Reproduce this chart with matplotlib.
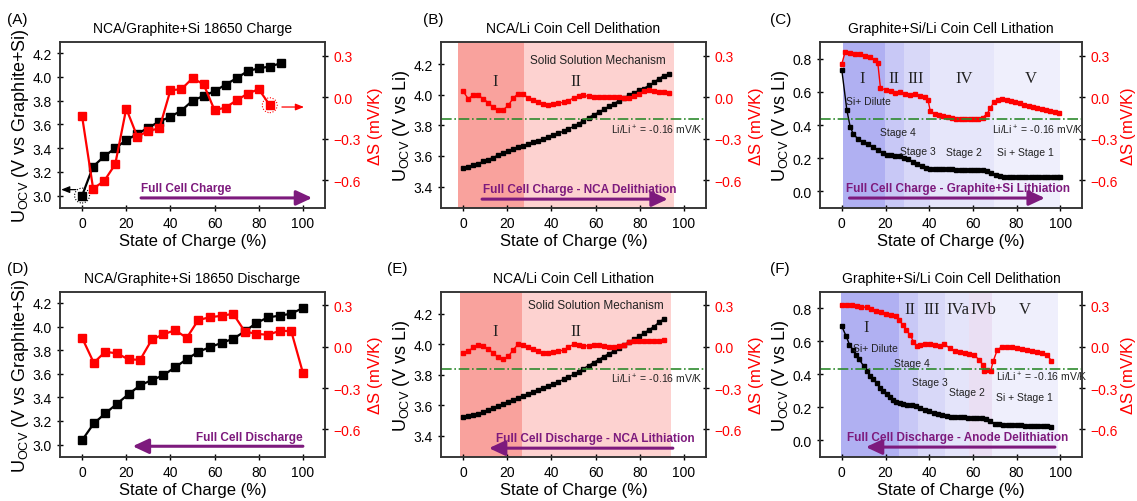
import numpy as np
import matplotlib
matplotlib.use('Agg')
import matplotlib.pyplot as plt
from matplotlib import rcParams

rcParams['font.family'] = ['Liberation Sans', 'DejaVu Sans']
rcParams['mathtext.fontset'] = 'custom'
rcParams['mathtext.rm'] = 'Liberation Sans'
rcParams['mathtext.it'] = 'Liberation Sans:italic'
rcParams['xtick.direction'] = 'inout'
rcParams['ytick.direction'] = 'inout'
rcParams['axes.linewidth'] = 1.1

FS_TICK = 10
FS_LAB = 12
FS_YLAB = 13
FS_TITLE = 10
PURPLE = '#7d1a7d'
GREEN = '#2e8b2e'
RED = '#ff0000'

##############################################################################
# DATA
# (A) 18650 charge
soc_a_k = [0, 5, 10, 15, 20, 25, 30, 35, 40, 45, 50, 55, 60, 65, 70, 75, 80, 85, 90]
u_a = [3.00, 3.245, 3.33, 3.40, 3.467, 3.52, 3.573, 3.624, 3.665, 3.717, 3.80,
       3.84, 3.88, 3.936, 3.99, 4.05, 4.073, 4.088, 4.116]
soc_a_r = [0, 5, 10, 15, 20, 25, 30, 35, 40, 45, 50, 55, 60, 65, 70, 75, 80, 85]
ds_a = [-0.137, -0.66, -0.605, -0.484, -0.081, -0.284, -0.243, -0.224, 0.051,
        0.059, 0.138, 0.095, -0.093, -0.074, -0.021, 0.027, 0.059, -0.057]

# (D) 18650 discharge
soc_d = [0, 5.3, 10.5, 15.8, 21.1, 26.3, 31.6, 36.8, 42.1, 47.4, 52.6, 57.9,
         63.2, 68.4, 73.7, 78.9, 84.2, 89.5, 94.7, 100]
u_d = [3.037, 3.179, 3.264, 3.346, 3.428, 3.502, 3.547, 3.587, 3.655, 3.723,
       3.786, 3.825, 3.862, 3.896, 3.959, 4.03, 4.078, 4.092, 4.109, 4.157]
ds_d = [0.065, -0.116, -0.036, -0.048, -0.092, -0.094, 0.053, 0.09, 0.121, 0.065,
        0.194, 0.215, 0.225, 0.24, 0.111, 0.094, 0.087, 0.116, 0.114, -0.189]

# (B) NCA delithiation
soc_b = [0, 2.3, 4.5, 6.8, 9.1, 11.4, 13.6, 15.9, 18.2, 20.5, 22.7, 25.0, 27.3,
         29.5, 31.8, 34.1, 36.4, 38.6, 40.9, 43.2, 45.5, 47.7, 50.0, 52.3, 54.5,
         56.8, 59.1, 61.4, 63.6, 65.9, 68.2, 70.5, 72.7, 75.0, 77.3, 79.5, 81.8,
         84.1, 86.4, 88.6, 90.9, 93.2]
u_b = [3.522, 3.530, 3.539, 3.550, 3.564, 3.577, 3.590, 3.606, 3.619, 3.632,
       3.645, 3.656, 3.665, 3.678, 3.690, 3.701, 3.712, 3.723, 3.736, 3.749,
       3.762, 3.776, 3.793, 3.811, 3.831, 3.851, 3.869, 3.886, 3.904, 3.924,
       3.941, 3.961, 3.979, 3.997, 4.012, 4.028, 4.041, 4.061, 4.081, 4.105,
       4.125, 4.136]
ds_b = [0.044, -0.010, 0.015, 0.015, -0.010, -0.039, -0.073, -0.090, -0.090, -0.058,
        -0.005, 0.027, 0.022, -0.005, -0.022, -0.034, -0.048, -0.053, -0.048, -0.041,
        -0.036, -0.024, -0.005, 0.007, 0.015, 0.007, 0.0, 0.002, 0.002, 0.0,
        0.002, 0.002, -0.002, -0.002, 0.007, 0.022, 0.044, 0.051, 0.044, 0.036,
        0.039, 0.034]

# (E) NCA lithiation
soc_e = [0, 2.3, 4.5, 6.8, 9.1, 11.4, 13.6, 15.9, 18.2, 20.5, 22.7, 25.0, 27.3,
         29.5, 31.8, 34.1, 36.4, 38.6, 40.9, 43.2, 45.5, 47.7, 50.0, 52.3, 54.5,
         56.8, 59.1, 61.4, 63.6, 65.9, 68.2, 70.5, 72.7, 75.0, 77.3, 79.5, 81.8,
         84.1, 86.4, 88.6, 90.9]
u_e = [3.522, 3.528, 3.535, 3.544, 3.555, 3.568, 3.581, 3.594, 3.608, 3.621,
       3.634, 3.648, 3.661, 3.674, 3.687, 3.701, 3.714, 3.727, 3.740, 3.754,
       3.769, 3.785, 3.802, 3.820, 3.840, 3.860, 3.880, 3.899, 3.919, 3.937,
       3.955, 3.975, 3.992, 4.012, 4.032, 4.052, 4.072, 4.094, 4.116, 4.143,
       4.167]
ds_e = [-0.046, -0.034, -0.005, 0.01, 0.007, -0.015, -0.046, -0.077, -0.090, -0.070,
        -0.022, 0.019, 0.015, -0.005, -0.015, -0.034, -0.046, -0.048, -0.039, -0.034,
        -0.022, -0.005, 0.019, 0.015, 0.007, 0.007, 0.010, 0.010, 0.007, 0.0,
        0.002, 0.007, 0.015, 0.034, 0.044, 0.039, 0.039, 0.039, 0.039, 0.039,
        0.046]

# (C) Graphite+Si lithiation
soc_c_k = [0, 2.3, 3.8, 5.3, 7.4, 9.6, 11.9, 14.2, 16.4, 18.7, 20.5, 22.5, 24.5,
           26.5, 28.5, 30.5, 32.5, 34.5, 36.5, 38.5, 40.5, 42.5, 44.5, 46.5, 48.5,
           50.5, 52.5, 54.5, 56.5, 58.5, 60.5, 62.5, 64.5, 66.5, 68.5, 70.5, 72.5,
           74.5, 76.5, 78.5, 80.5, 82.5, 84.5, 86.5, 88.5, 90.5, 92.5, 94.5, 96.5,
           98.5, 100]
u_c = [0.73, 0.49, 0.39, 0.345, 0.316, 0.30, 0.284, 0.268, 0.252, 0.232, 0.222,
       0.220, 0.216, 0.211, 0.204, 0.193, 0.180, 0.166, 0.153, 0.143, 0.137,
       0.134, 0.133, 0.133, 0.132, 0.132, 0.131, 0.131, 0.130, 0.130, 0.129,
       0.128, 0.126, 0.122, 0.112, 0.100, 0.092, 0.089, 0.088, 0.087, 0.087,
       0.086, 0.086, 0.086, 0.085, 0.085, 0.085, 0.084, 0.084, 0.084, 0.084]
soc_c_r = [0, 1.5, 3.8, 6.0, 8.3, 10.5, 12.8, 15.0, 16.5, 17.7, 20, 22.3, 24.5,
           26.8, 29, 31.3, 33.5, 35.8, 38, 39.5, 40.5, 42.5, 44.5, 46.5, 48.5,
           50.5, 52.5, 54.5, 56.5, 58.5, 60.5, 62.5, 64.5, 66.5, 68, 69.6, 71.5,
           73.5, 75.5, 77.5, 79.5, 81.5, 83.5, 85.5, 87.5, 89.5, 91.5, 93.5, 95.5,
           97.5, 99.5]
ds_c = [0.242, 0.327, 0.32, 0.316, 0.314, 0.30, 0.288, 0.27, 0.245, 0.065, 0.055,
        0.043, 0.034, 0.036, 0.026, 0.019, 0.026, 0.01, 0.002, -0.02, -0.10,
        -0.118, -0.128, -0.138, -0.145, -0.150, -0.154, -0.157, -0.159, -0.160,
        -0.159, -0.155, -0.146, -0.120, -0.080, -0.035, -0.018, -0.014, -0.020,
        -0.028, -0.036, -0.044, -0.052, -0.060, -0.068, -0.076, -0.084, -0.091,
        -0.098, -0.104, -0.110]

# (F) Graphite+Si delithiation
soc_f_k = [0, 2, 3.5, 5, 6.5, 8, 10, 11.5, 13, 14.5, 16, 17.5, 19, 20.5, 22, 23.5,
           25, 26.5, 28, 30, 32, 34, 36, 38, 40, 42, 44, 46, 48, 50, 52, 54, 56,
           58, 60, 62, 64, 66, 68, 70, 72, 74, 76, 78, 80, 82, 84, 86, 88, 90, 92,
           94, 96]
u_f = [0.69, 0.63, 0.58, 0.55, 0.52, 0.49, 0.45, 0.42, 0.39, 0.37, 0.345, 0.32,
       0.30, 0.28, 0.26, 0.245, 0.232, 0.224, 0.219, 0.216, 0.213, 0.208, 0.198,
       0.186, 0.176, 0.166, 0.158, 0.152, 0.148, 0.145, 0.142, 0.14, 0.139,
       0.138, 0.137, 0.136, 0.134, 0.13, 0.118, 0.102, 0.097, 0.095, 0.094,
       0.093, 0.092, 0.091, 0.09, 0.089, 0.089, 0.088, 0.087, 0.086, 0.083]
soc_f_r = [0, 2.3, 4.5, 6.8, 9, 11.3, 13.5, 15.8, 18, 20.3, 22.6, 24.8, 26.4,
           27.9, 29.4, 31.3, 32.8, 34.3, 35.8, 38, 40.3, 42.6, 44.8, 47, 49.4,
           51.7, 53.9, 56.2, 58.4, 60.7, 62.9, 64.5, 65.2, 66.7, 68.2, 69.3, 71.2,
           73.5, 75.8, 78, 80.3, 82.5, 84.8, 87, 89.3, 91.6, 93.8, 96]
ds_f = [0.307, 0.307, 0.302, 0.298, 0.29, 0.286, 0.274, 0.262, 0.25, 0.24, 0.23,
        0.226, 0.194, 0.158, 0.122, 0.086, 0.038, 0.007, 0.014, 0.022, 0.019,
        0.01, 0.007, 0.019, -0.01, -0.034, -0.038, -0.046, -0.05, -0.062, -0.094,
        -0.13, -0.178, -0.168, -0.173, -0.106, -0.022, 0.002, 0.002, -0.002,
        -0.01, -0.014, -0.024, -0.034, -0.038, -0.046, -0.058, -0.10]

LI_REF = -0.16  # Li/Li+ entropy reference, mV/K

# shaded regions (start, end, colour)
regions_b = [(-2.4, 27.6, '#f9a29d'), (27.6, 95.3, '#fdd2d0')]
regions_e = [(-1.5, 26.5, '#f9a29d'), (26.5, 94.2, '#fdd2d0')]
regions_c = [(0.75, 19.7, '#b0b0f2'), (19.7, 28.6, '#c8c8f6'), (28.6, 40.4, '#d8d8f8'),
             (40.4, 69.7, '#e6e6fa'), (69.7, 99.8, '#efeffc')]
regions_f = [(-0.3, 26.4, '#b0b0f2'), (26.4, 34.8, '#c8c8f6'), (34.8, 47.1, '#d8d8f8'),
             (47.1, 58.4, '#e4e4fa'), (58.4, 69.0, '#eadff3'), (69.0, 99.1, '#efeffc')]
##############################################################################


def setup(ax, ylim, yticks, ylabel, title, rpad=4):
    ax.set_xlim(-10, 110)
    ax.set_xticks([0, 20, 40, 60, 80, 100])
    ax.set_ylim(*ylim)
    ax.set_yticks(yticks)
    ax.tick_params(labelsize=FS_TICK, length=5, width=1)
    ax.set_xlabel('State of Charge (%)', fontsize=FS_LAB, labelpad=2)
    ax.set_ylabel(ylabel, fontsize=FS_YLAB, labelpad=1)
    ax.set_title(title, fontsize=FS_TITLE, pad=7)
    ax2 = ax.twinx()
    ax2.set_ylim(-0.8, 0.4)
    ax2.set_yticks([-0.6, -0.3, 0.0, 0.3])
    ax2.tick_params(labelsize=FS_TICK, length=5, width=1, labelcolor=RED)
    ax2.set_ylabel(r'$\Delta$S (mV/K)', fontsize=FS_LAB, color=RED, labelpad=rpad)
    for sp in ax2.spines.values():
        sp.set_color('#333333')
    return ax2


def arrow(ax, x0, x1, y, lw=2.2, col=PURPLE, head='-|>,head_length=0.6,head_width=0.28', ms=16):
    ax.annotate('', xy=(x1, y), xytext=(x0, y),
                arrowprops=dict(arrowstyle=head, color=col, lw=lw,
                                mutation_scale=ms, shrinkA=0, shrinkB=0))


def roman(ax, x, y, s):
    ax.text(x, y, s, ha='center', va='center', fontsize=12,
            family='Liberation Serif', color='#222222')


def small(ax, x, y, s, ha='center'):
    ax.text(x, y, s, ha=ha, va='center', fontsize=7.5, color='#222222')


def bold(ax, x, y, s, ha='center'):
    ax.text(x, y, s, ha=ha, va='center', fontsize=8.5, color=PURPLE, weight='bold')


fig = plt.figure(figsize=(11.37, 5.02), dpi=100)
W, H = 1137.0, 502.0
cols = [(60, 325), (441, 706), (820, 1082)]
rows = [(43, 209), (292.7, 458)]
axs = {}
for r, (t, b) in enumerate(rows):
    for c, (l, rr) in enumerate(cols):
        axs[(r, c)] = fig.add_axes([l / W, 1 - b / H, (rr - l) / W, (b - t) / H])

u_full = r'U$_\mathregular{OCV}$ (V vs Graphite+Si)'
u_li = r'U$_\mathregular{OCV}$ (V vs Li)'
big = dict(marker='s', ms=6, lw=1.6)
mid = dict(marker='s', ms=3.2, lw=1.0)
sml = dict(marker='s', ms=3.0, lw=1.0)

# (A)
ax = axs[(0, 0)]
ax2 = setup(ax, (2.895, 4.295), np.arange(3.0, 4.21, 0.2), u_full,
            'NCA/Graphite+Si 18650 Charge')
ax.plot(soc_a_k, u_a, color='k', **big)
ax2.plot(soc_a_r, ds_a, color=RED, **big)
ax.scatter([soc_a_k[0]], [u_a[0]], s=115, facecolors='none', edgecolors='k',
           linewidths=0.8, linestyle=(0, (1, 1.5)), zorder=5)
ax2.scatter([soc_a_r[-1]], [ds_a[-1]], s=115, facecolors='none', edgecolors=RED,
            linewidths=0.8, linestyle=(0, (1, 1.5)), zorder=5)
arrow(ax, -2.8, -9.5, 3.05, lw=0.9, col='k', head='-|>,head_length=0.5,head_width=0.2', ms=10)
arrow(ax2, 90.5, 100.5, -0.07, lw=0.9, col=RED, head='-|>,head_length=0.5,head_width=0.2', ms=10)
arrow(ax, 26.7, 104.2, 2.98)
bold(ax, 26.7, 3.062, 'Full Cell Charge', ha='left')

# (D)
ax = axs[(1, 0)]
ax2 = setup(ax, (2.895, 4.295), np.arange(3.0, 4.21, 0.2), u_full,
            'NCA/Graphite+Si 18650 Discharge')
ax.plot(soc_d, u_d, color='k', **big)
ax2.plot(soc_d, ds_d, color=RED, **big)
arrow(ax, 100, 22.9, 2.986)
bold(ax, 100, 3.065, 'Full Cell Discharge', ha='right')

# (B) and (E)
for (r, soc, u, ds, regs, ttl, arr, lab, sx, sy) in [
        (0, soc_b, u_b, ds_b, regions_b, 'NCA/Li Coin Cell Delithation',
         (8.6, 92.7), ('Full Cell Charge - NCA Delithiation', 52.9), 61, 4.229),
        (1, soc_e, u_e, ds_e, regions_e, 'NCA/Li Coin Cell Lithation',
         (95.0, 11.7), ('Full Cell Discharge - NCA Lithiation', 59.7), 60, 4.257)]:
    ax = axs[(r, 1)]
    ax2 = setup(ax, (3.26, 4.345), np.arange(3.4, 4.21, 0.2), u_li, ttl)
    for x0, x1, colr in regs:
        ax.axvspan(x0, x1, color=colr, lw=0, zorder=0)
    ax.plot(soc, u, color='k', **mid)
    ax2.plot(soc, ds, color=RED, **mid)
    ax2.axhline(LI_REF, color=GREEN, ls='-.', lw=1.2)
    ax.text(sx, sy, 'Solid Solution Mechanism', ha='center', va='center',
            fontsize=8.5, color='#222222')
    roman(ax, 14.5, 4.087, 'I')
    roman(ax, 51, 4.087, 'II')
    small(ax, 67, 3.773, r'Li/Li$^+$ = -0.16 mV/K', ha='left')
    arrow(ax, arr[0], arr[1], 3.318)
    bold(ax, lab[1], 3.384, lab[0])

# (C)
ax = axs[(0, 2)]
ax2 = setup(ax, (-0.1, 0.9), np.arange(0.0, 0.81, 0.2), u_li,
            'Graphite+Si/Li Coin Cell Lithation', rpad=1)
for x0, x1, colr in regions_c:
    ax.axvspan(x0, x1, color=colr, lw=0, zorder=0)
ax.plot(soc_c_k, u_c, color='k', **sml)
ax2.plot(soc_c_r, ds_c, color=RED, **sml)
ax2.axhline(LI_REF, color=GREEN, ls='-.', lw=1.2)
for x, s in [(9.5, 'I'), (23.8, 'II'), (33.9, 'III'), (55.9, 'IV'), (86.7, 'V')]:
    roman(ax, x, 0.686, s)
small(ax, 12.3, 0.546, 'Si+ Dilute')
small(ax, 25.6, 0.36, 'Stage 4')
small(ax, 34.6, 0.246, 'Stage 3')
small(ax, 55.7, 0.24, 'Stage 2')
small(ax, 84.3, 0.24, 'Si + Stage 1')
small(ax, 68.7, 0.372, r'Li/Li$^+$ = -0.16 mV/K', ha='left')
arrow(ax, 3.5, 93, -0.04)
bold(ax, 53.2, 0.02, 'Full Cell Charge - Graphite+Si Lithiation')

# (F)
ax = axs[(1, 2)]
ax2 = setup(ax, (-0.1, 0.9), np.arange(0.0, 0.81, 0.2), u_li,
            'Graphite+Si/Li Coin Cell Delithation', rpad=1)
for x0, x1, colr in regions_f:
    ax.axvspan(x0, x1, color=colr, lw=0, zorder=0)
ax.plot(soc_f_k, u_f, color='k', **sml)
ax2.plot(soc_f_r, ds_f, color=RED, **sml)
ax2.axhline(LI_REF, color=GREEN, ls='-.', lw=1.2)
roman(ax, 11, 0.686, 'I')
for x, s in [(31.3, 'II'), (41, 'III'), (53, 'IVa'), (65, 'IVb'), (83.7, 'V')]:
    roman(ax, x, 0.796, s)
small(ax, 15.5, 0.56, 'Si+ Dilute')
small(ax, 32, 0.466, 'Stage 4')
small(ax, 40.5, 0.356, 'Stage 3')
small(ax, 57.2, 0.292, 'Stage 2')
small(ax, 83.8, 0.26, 'Si + Stage 1')
small(ax, 70.5, 0.386, r'Li/Li$^+$ = -0.16 mV/K', ha='left')
arrow(ax, 97.6, 11, -0.04)
bold(ax, 53, 0.02, 'Full Cell Discharge - Anode Delithiation')

for a in axs.values():
    for sp in a.spines.values():
        sp.set_color('#333333')

# panel letters
for s, x, y in [('(A)', 7, 20), ('(B)', 423, 20), ('(C)', 770, 20),
                ('(D)', 7, 269), ('(E)', 387, 269), ('(F)', 770, 269)]:
    fig.text(x / W, 1 - y / H, s, fontsize=11, ha='left', va='center')

fig.savefig('out.png', dpi=100)
